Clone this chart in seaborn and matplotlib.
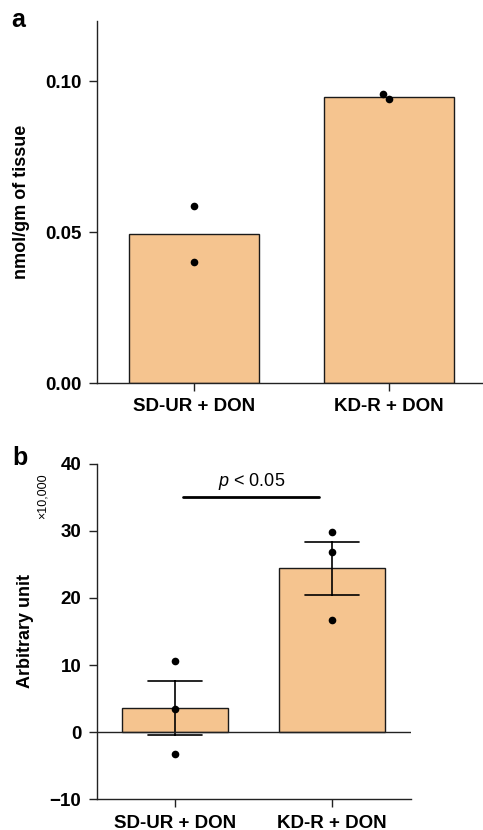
import matplotlib
matplotlib.use("Agg")
import matplotlib.pyplot as plt
import seaborn as sns
import pandas as pd

# panel a: tissue concentration
groups = ["SD-UR + DON", "KD-R + DON"]
a_sd_ur = [0.0586, 0.0401]
a_kd_r = [0.0940, 0.0957]

# panel b: arbitrary unit (x10,000)
b_sd_ur = [10.6, 3.5, -3.2]
b_kd_r = [29.8, 26.8, 16.7]

bar_color = "#F5C48F"
edge_color = "#1a1a1a"

sns.set_style("ticks")
plt.rcParams["font.family"] = ["Liberation Sans", "DejaVu Sans"]
plt.rcParams["mathtext.fontset"] = "custom"
plt.rcParams["mathtext.it"] = "Liberation Sans:italic"
plt.rcParams["mathtext.rm"] = "Liberation Sans"
for key in ["text.color", "axes.labelcolor", "xtick.color", "ytick.color"]:
    plt.rcParams[key] = "black"

df_a = pd.DataFrame({
    "group": [groups[0]] * len(a_sd_ur) + [groups[1]] * len(a_kd_r),
    "value": a_sd_ur + a_kd_r,
})
df_b = pd.DataFrame({
    "group": [groups[0]] * len(b_sd_ur) + [groups[1]] * len(b_kd_r),
    "value": b_sd_ur + b_kd_r,
})

fig = plt.figure(figsize=(4.83, 8.30), dpi=100)
ax_a = fig.add_axes([96.5 / 483, 447 / 830, 390 / 483, 362 / 830])
ax_b = fig.add_axes([96.5 / 483, 30.7 / 830, 314 / 483, 335.6 / 830])


def style_axis(ax):
    for side in ["top", "right"]:
        ax.spines[side].set_visible(False)
    for side in ["left", "bottom"]:
        ax.spines[side].set_linewidth(1.0)
        ax.spines[side].set_color("#222222")
    ax.tick_params(axis="both", length=6, width=1.0, color="#222222",
                   labelsize=13.5, pad=5)
    for lab in ax.get_xticklabels() + ax.get_yticklabels():
        lab.set_fontweight("bold")
    ax.set_xlabel("")


# ---- panel a ----
sns.barplot(data=df_a, x="group", y="value", order=groups, errorbar=None,
            width=0.67, color=bar_color, saturation=1, edgecolor=edge_color,
            linewidth=1.0, ax=ax_a, zorder=2)
sns.swarmplot(data=df_a, x="group", y="value", order=groups, color="black",
              size=5.5, ax=ax_a, zorder=3)
ax_a.set_xlim(-0.5, 1.5)
ax_a.set_ylim(0, 0.12)
ax_a.set_yticks([0.0, 0.05, 0.10])
ax_a.set_yticklabels(["0.00", "0.05", "0.10"])
ax_a.set_ylabel("nmol/gm of tissue", fontsize=13, fontweight="bold")
ax_a.yaxis.set_label_coords(-0.17, 0.5)
style_axis(ax_a)

# ---- panel b ----
sns.barplot(data=df_b, x="group", y="value", order=groups, errorbar="se",
            capsize=0.34, width=0.67, color=bar_color, saturation=1,
            edgecolor=edge_color, linewidth=1.0,
            err_kws={"color": "black", "linewidth": 1.2}, ax=ax_b, zorder=2)
sns.swarmplot(data=df_b, x="group", y="value", order=groups, color="black",
              size=5.5, ax=ax_b, zorder=4)
ax_b.axhline(0, color="#222222", linewidth=1.0, zorder=3)
ax_b.set_xlim(-0.5, 1.5)
ax_b.set_ylim(-10, 40)
ax_b.set_yticks([-10, 0, 10, 20, 30, 40])
ax_b.set_yticklabels(["\u221210", "0", "10", "20", "30", "40"])
ax_b.set_ylabel("Arbitrary unit", fontsize=13, fontweight="bold")
ax_b.yaxis.set_label_coords(-0.20, 0.5)
style_axis(ax_b)

# significance bar
ax_b.plot([0.05, 0.92], [35.1, 35.1], color="black", linewidth=2, clip_on=False)
ax_b.text(0.485, 36.7, r"$p$ < 0.05", ha="center", va="baseline", fontsize=13)

fig.text(43 / 483, 1 - 496 / 830, "\u00d710,000", rotation=90, ha="center",
         va="center", fontsize=9)
fig.text(11 / 483, 1 - 27 / 830, "a", fontsize=18, fontweight="bold",
         va="baseline")
fig.text(12 / 483, 1 - 465 / 830, "b", fontsize=18, fontweight="bold",
         va="baseline")

fig.savefig("out.png", dpi=100)
